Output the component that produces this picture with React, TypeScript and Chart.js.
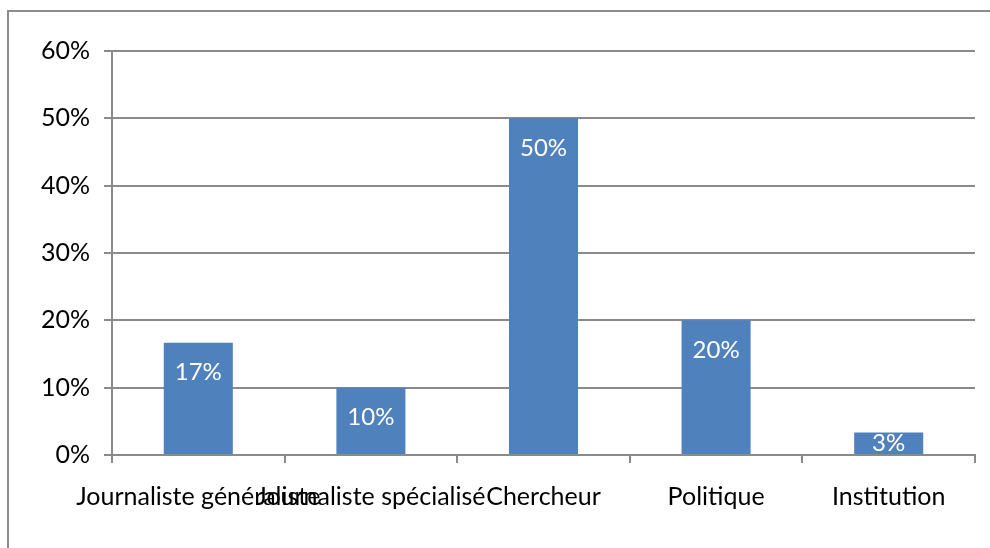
import React, { useEffect, useRef } from "react";
import { Chart, registerables } from "chart.js";

Chart.register(...registerables);

const categories = [
  "Journaliste généraliste",
  "Journaliste spécialisé",
  "Chercheur",
  "Politique",
  "Institution",
];
const values = [0.1667, 0.1, 0.5, 0.2, 0.0333];
const valueLabels = ["17%", "10%", "50%", "20%", "3%"];
const yTicks = [0, 0.1, 0.2, 0.3, 0.4, 0.5, 0.6];

const FONT = "Lato, 'Open Sans', sans-serif";
const GRID = "#8a8a8a";
const BAR = "#4f81bd";

const framePlugin = {
  id: "frame",
  beforeDraw(chart: any) {
    const ctx = chart.ctx;
    ctx.save();
    ctx.fillStyle = "#ffffff";
    ctx.fillRect(0, 0, chart.width, chart.height);
    ctx.strokeStyle = "#8c8c8c";
    ctx.lineWidth = 2;
    ctx.strokeRect(8, 11, 1100, 700);
    ctx.restore();
  },
};

const labelPlugin = {
  id: "barLabels",
  afterDatasetsDraw(chart: any) {
    const ctx = chart.ctx;
    const meta = chart.getDatasetMeta(0);
    ctx.save();
    ctx.fillStyle = "#ffffff";
    ctx.font = `24px ${FONT}`;
    ctx.textAlign = "center";
    ctx.textBaseline = "middle";
    meta.data.forEach((bar: any, i: number) => {
      const top = bar.y;
      const bottom = bar.base;
      const y = Math.min(top + 30, (top + bottom) / 2);
      ctx.fillText(valueLabels[i], bar.x, y);
    });
    ctx.restore();
  },
};

export default function App() {
  const ref = useRef<HTMLCanvasElement | null>(null);
  useEffect(() => {
    if (!ref.current) return;
    const chart = new Chart(ref.current, {
      type: "bar",
      data: {
        labels: categories,
        datasets: [
          {
            data: values,
            backgroundColor: BAR,
            barPercentage: 0.4,
            categoryPercentage: 1,
          },
        ],
      },
      options: {
        animation: false,
        responsive: false,
        devicePixelRatio: 1,
        layout: { padding: { top: 51, right: 15, left: 0, bottom: 0 } },
        plugins: { legend: { display: false }, tooltip: { enabled: false } },
        scales: {
          x: {
            grid: {
              drawOnChartArea: false,
              drawTicks: true,
              tickLength: 8,
              color: GRID,
              lineWidth: 2,
            },
            border: { color: GRID, width: 2 },
            ticks: {
              autoSkip: false,
              maxRotation: 0,
              minRotation: 0,
              color: "#000",
              font: { family: FONT, size: 25 },
              padding: 19,
            },
            afterFit(scale: any) {
              scale.height = 93;
            },
          },
          y: {
            min: 0,
            max: 0.6,
            afterBuildTicks(scale: any) {
              scale.ticks = yTicks.map((v) => ({ value: v }));
            },
            grid: {
              color: GRID,
              lineWidth: 2,
              tickLength: 8,
            },
            border: { color: GRID, width: 2 },
            ticks: {
              color: "#000",
              font: { family: FONT, size: 25 },
              padding: 14,
              callback: (v: any) => `${Math.round(Number(v) * 100)}%`,
            },
            afterFit(scale: any) {
              scale.width = 112;
            },
          },
        },
      },
      plugins: [framePlugin, labelPlugin],
    });
    return () => chart.destroy();
  }, []);
  return (
    <div style={{ position: "fixed", left: 0, top: 0, width: 990, height: 548, background: "#fff" }}>
      <canvas ref={ref} width={990} height={548} style={{ display: "block" }} />
    </div>
  );
}
